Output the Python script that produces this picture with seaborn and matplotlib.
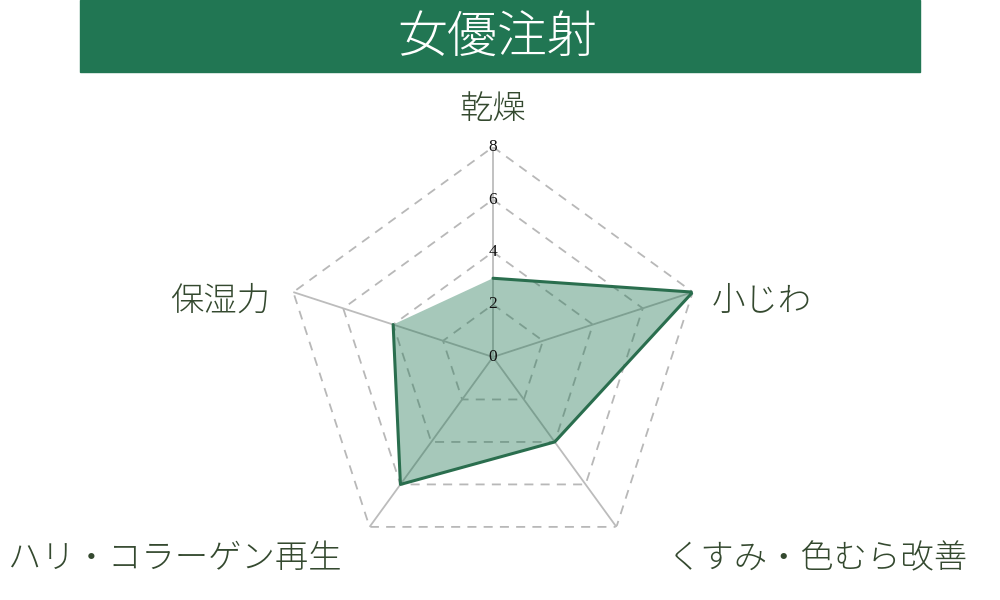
import numpy as np
import pandas as pd
import seaborn as sns
import matplotlib.pyplot as plt
from matplotlib.patches import Rectangle

# data
categories = ['乾燥', '小じわ', 'くすみ・色むら改善', 'ハリ・コラーゲン再生', '保湿力']
scores = [3, 8, 4, 6, 4]
ticks = [0, 2, 4, 6, 8]
title = '女優注射'

sns.set_theme(style='white')
plt.rcParams['font.family'] = ['Noto Sans CJK JP', 'DejaVu Sans']

green = '#217653'
line_col = '#2a6e4e'
label_col = '#34492f'

n = len(categories)
angles = np.linspace(0, 2 * np.pi, n, endpoint=False)
df = pd.DataFrame({'angle': np.append(angles, angles[0]),
                   'score': scores + scores[:1]})

fig = plt.figure(figsize=(10, 6), dpi=100)
fig.patches.append(Rectangle((0.08, 0.88), 0.84, 0.12, transform=fig.transFigure,
                             color=green, zorder=0))
fig.text(0.497, 0.935, title, color='white', fontsize=36, ha='center', va='center',
         fontweight='light')

ax = fig.add_axes([0.283, 0.055, 0.42, 0.70], projection='polar')
ax.set_theta_offset(np.pi / 2)
ax.set_theta_direction(-1)
ax.set_ylim(0, 8)
ax.grid(False)
ax.spines['polar'].set_visible(False)
ax.set_xticks([])
ax.set_yticks([])

# pentagon grid + spokes
ring_angles = np.append(angles, angles[0])
for t in ticks[1:]:
    ax.plot(ring_angles, [t] * (n + 1), color='#b8b8b8', lw=1.3, ls=(0, (5, 4)), zorder=1)
for a in angles:
    ax.plot([a, a], [0, ticks[-1]], color='#bcbcbc', lw=1.3, zorder=1)

ax.fill(df['angle'], df['score'], color=green, alpha=0.4, lw=0, zorder=2)
sns.lineplot(data=df, x='angle', y='score', sort=False, ax=ax,
             color=line_col, lw=2.2, zorder=3)
ax.set_xlabel('')
ax.set_ylabel('')

for t in ticks:
    ax.text(0, t, str(t), ha='center', va='center', fontsize=12.5,
            family='Liberation Serif', color='#111111', zorder=4)

# axis labels
label_pos = [(0.493, 0.817, 'center'), (0.712, 0.497, 'left'),
             (0.968, 0.068, 'right'), (0.008, 0.068, 'left'),
             (0.270, 0.497, 'right')]
for (x, y, ha), lab in zip(label_pos, categories):
    fig.text(x, y, lab, ha=ha, va='center', fontsize=24, color=label_col,
             fontweight='light')

fig.savefig('out.png', dpi=100)
